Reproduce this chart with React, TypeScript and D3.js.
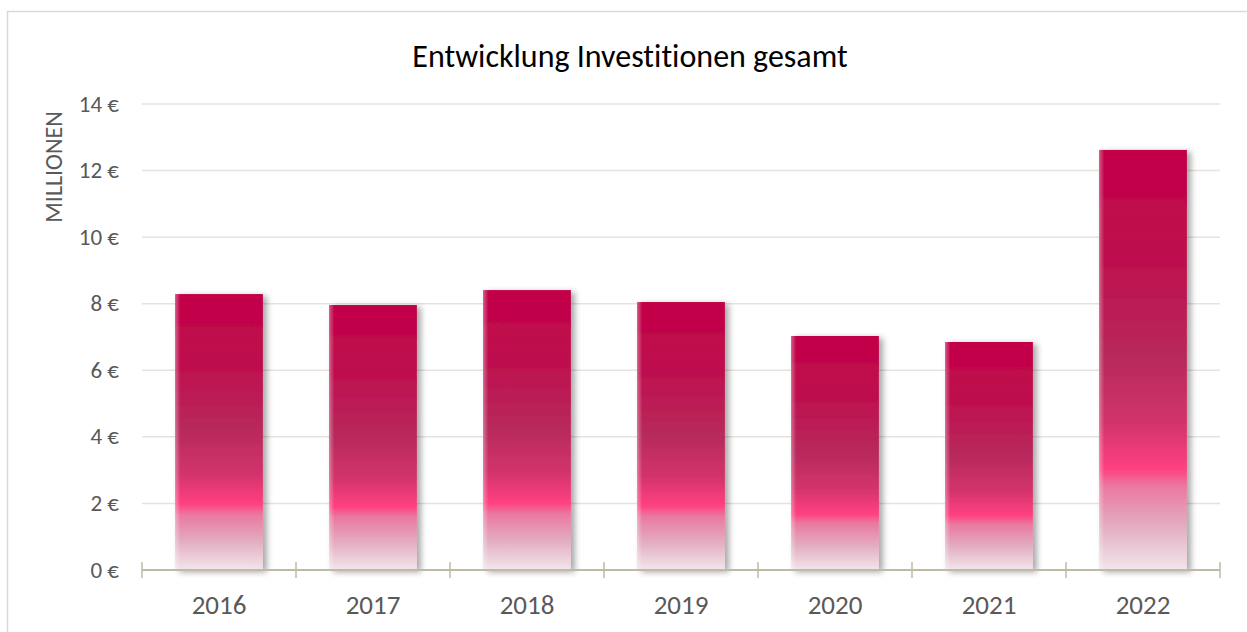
import React from "react";
import * as d3 from "d3";

const years = ["2016", "2017", "2018", "2019", "2020", "2021", "2022"];
const values = [8.29, 7.96, 8.41, 8.05, 7.03, 6.85, 12.62];
const yTicks = [0, 2, 4, 6, 8, 10, 12, 14];
const title = "Entwicklung Investitionen gesamt";
const yTitle = "MILLIONEN";

const W = 1247;
const H = 632;
const m = { left: 142, right: 1220, top: 104, bottom: 570 };

export default function App() {
  const x = d3.scaleBand<string>().domain(years).range([m.left, m.right]).paddingInner(0.43).paddingOuter(0.215);
  const band = d3.scaleBand<string>().domain(years).range([m.left, m.right]).padding(0);
  const y = d3.scaleLinear().domain([0, 14]).range([m.bottom, m.top]);
  const font = "Carlito, 'Open Sans', 'Liberation Sans', sans-serif";
  const boundaries = [...years.map((d) => band(d)!), m.right];
  const noLig = { fontVariantLigatures: "none" as const, fontFeatureSettings: "'liga' 0" };

  return (
    <svg width={W} height={H} style={{ position: "absolute", left: 0, top: 0, background: "#fff" }}>
      <defs>
        <linearGradient id="barGrad" x1="0" y1="0" x2="0" y2="1">
          <stop offset="0" stopColor="#C20048" />
          <stop offset="0.25" stopColor="#BE0E4E" />
          <stop offset="0.5" stopColor="#B82A5C" />
          <stop offset="0.65" stopColor="#D2336C" />
          <stop offset="0.76" stopColor="#FF4081" />
          <stop offset="0.8" stopColor="#EA78A0" />
          <stop offset="0.9" stopColor="#E3AFC2" />
          <stop offset="1" stopColor="#F2E6EC" />
        </linearGradient>
        <linearGradient id="edgeGrad" x1="0" y1="0" x2="1" y2="0">
          <stop offset="0" stopColor="#fff" stopOpacity="0.35" />
          <stop offset="0.06" stopColor="#fff" stopOpacity="0" />
          <stop offset="1" stopColor="#fff" stopOpacity="0" />
        </linearGradient>
        <filter id="shadow" x="-20%" y="-10%" width="140%" height="120%">
          <feGaussianBlur in="SourceAlpha" stdDeviation="3" />
          <feOffset dx="4" dy="2" result="b" />
          <feComponentTransfer>
            <feFuncA type="linear" slope="0.35" />
          </feComponentTransfer>
          <feMerge>
            <feMergeNode />
            <feMergeNode in="SourceGraphic" />
          </feMerge>
        </filter>
      </defs>
      <rect x={7.5} y={11.5} width={W} height={H} fill="#fff" stroke="#D9D9D9" strokeWidth={1.5} />
      <text x={630} y={67} textAnchor="middle" fontFamily={font} fontSize={32} fill="#000" style={noLig}>
        {title}
      </text>
      {yTicks.map((t) => (
        <g key={t}>
          {t > 0 && (
            <line x1={m.left} x2={m.right} y1={y(t)} y2={y(t)} stroke="#E6E3DC" strokeWidth={1.5} />
          )}
          <text x={119} y={y(t) + 7.5} textAnchor="end" fontFamily={font} fontSize={23} fill="#595959">
            {`${t} €`}
          </text>
        </g>
      ))}
      <text
        transform={`translate(62, ${167}) rotate(-90)`}
        textAnchor="middle"
        fontFamily={font}
        fontSize={24}
        fill="#595959"
      >
        {yTitle}
      </text>
      {years.map((d, i) => (
        <g key={d}>
          <rect
            x={x(d)!}
            y={y(values[i])}
            width={x.bandwidth()}
            height={y(0) - y(values[i])}
            fill="url(#barGrad)"
            filter="url(#shadow)"
          />
          <rect
            x={x(d)!}
            y={y(values[i])}
            width={x.bandwidth()}
            height={y(0) - y(values[i])}
            fill="url(#edgeGrad)"
          />
        </g>
      ))}
      <line x1={m.left} x2={m.right} y1={m.bottom} y2={m.bottom} stroke="#BFBAA6" strokeWidth={2} />
      {boundaries.map((b, i) => (
        <line key={i} x1={b} x2={b} y1={m.bottom - 8} y2={m.bottom + 8} stroke="#BFBAA6" strokeWidth={1.5} />
      ))}
      {years.map((d) => (
        <text
          key={d}
          x={x(d)! + x.bandwidth() / 2}
          y={614}
          textAnchor="middle"
          fontFamily={font}
          fontSize={27}
          fill="#595959"
        >
          {d}
        </text>
      ))}
    </svg>
  );
}
